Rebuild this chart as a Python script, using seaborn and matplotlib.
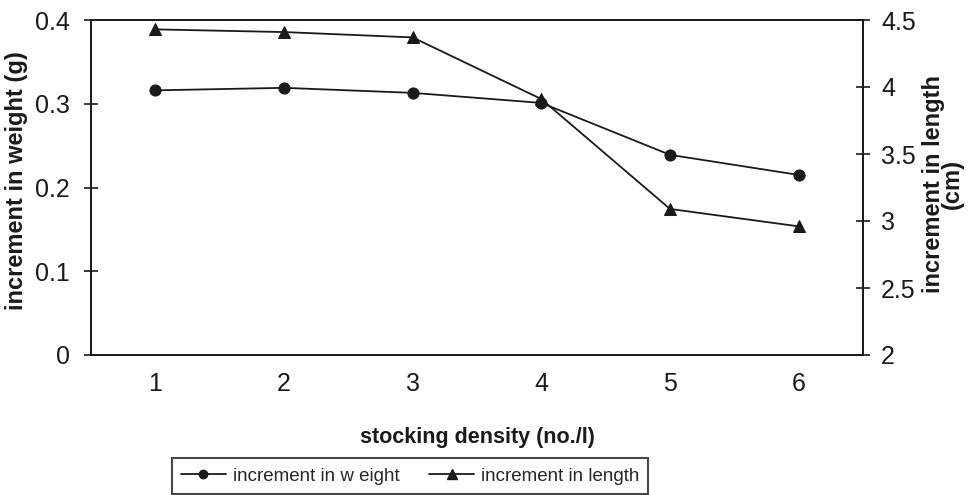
import matplotlib
matplotlib.use("Agg")
import matplotlib.pyplot as plt
import seaborn as sns
import pandas as pd
from matplotlib.lines import Line2D

density = [1, 2, 3, 4, 5, 6]
weight = [0.316, 0.319, 0.313, 0.301, 0.239, 0.215]
length = [4.43, 4.41, 4.37, 3.91, 3.09, 2.96]

df = pd.DataFrame({"density": density, "weight": weight, "length": length})

sns.set_style("white")
plt.rcParams["font.family"] = ["Liberation Sans", "DejaVu Sans"]

fig = plt.figure(figsize=(9.71, 4.95), dpi=100)
ax = fig.add_axes([91/971, 1-355/495, (863-91)/971, (355-20)/495])
ax2 = ax.twinx()

col = "#1a1a1a"
sns.lineplot(data=df, x="density", y="weight", ax=ax, color=col, marker="o",
             markersize=8, linewidth=1.3, markeredgecolor=col, markerfacecolor=col)
sns.lineplot(data=df, x="density", y="length", ax=ax2, color=col, marker="^",
             markersize=9, linewidth=1.3, markeredgecolor=col, markerfacecolor=col)

ax.set_xlim(0.5, 6.5)
ax.set_ylim(0, 0.4)
ax2.set_ylim(2, 4.5)
ax.set_yticks([0, 0.1, 0.2, 0.3, 0.4])
ax.set_yticklabels(["0", "0.1", "0.2", "0.3", "0.4"])
ax2.set_yticks([2, 2.5, 3, 3.5, 4, 4.5])
ax2.set_yticklabels(["2", "2.5", "3", "3.5", "4", "4.5"])
ax.set_xticks(density)
ax.set_xticklabels([str(d) for d in density])
ax.set_xticks([1.5, 2.5, 3.5, 4.5, 5.5], minor=True)

for a in (ax, ax2):
    for s in a.spines.values():
        s.set_color(col)
        s.set_linewidth(1.3)
    a.grid(False)

ax.tick_params(axis="x", which="major", length=0, pad=12, labelsize=18, colors=col)
ax.tick_params(axis="x", which="minor", length=6, width=1.2, direction="out", color=col)
ax.tick_params(axis="y", which="major", length=10, width=1.2, direction="inout",
               pad=10, labelsize=18, colors=col)
ax2.tick_params(axis="y", which="major", length=10, width=1.2, direction="inout",
                pad=8, labelsize=18, colors=col)

ax.set_xlabel("stocking density (no./l)", fontsize=15.5, fontweight="bold", color=col)
ax.xaxis.set_label_coords(0.5, (355-427)/335)
ax.set_ylabel("increment in weight (g)", fontsize=17, fontweight="bold", color=col)
ax.yaxis.set_label_coords((28-91)/772, 0.52)
ax2.set_ylabel("increment in length\n(cm)", fontsize=17, fontweight="bold", color=col,
               linespacing=0.78)
ax2.yaxis.set_label_coords((922-91)/772, 0.51)

handles = [
    Line2D([], [], color=col, marker="o", markersize=6, linewidth=1.3),
    Line2D([], [], color=col, marker="^", markersize=7, linewidth=1.3),
]
leg = fig.legend(handles, ["increment in w eight", "increment in length"],
                 loc="center", bbox_to_anchor=(410/971, 1-476/495), ncol=2,
                 frameon=True, fancybox=False, edgecolor=col, fontsize=13.5,
                 handlelength=2.4, columnspacing=1.6, handletextpad=0.35,
                 borderpad=0.5, borderaxespad=0)
leg.get_frame().set_linewidth(1.5)

fig.savefig("out.png", dpi=100, facecolor="white")
